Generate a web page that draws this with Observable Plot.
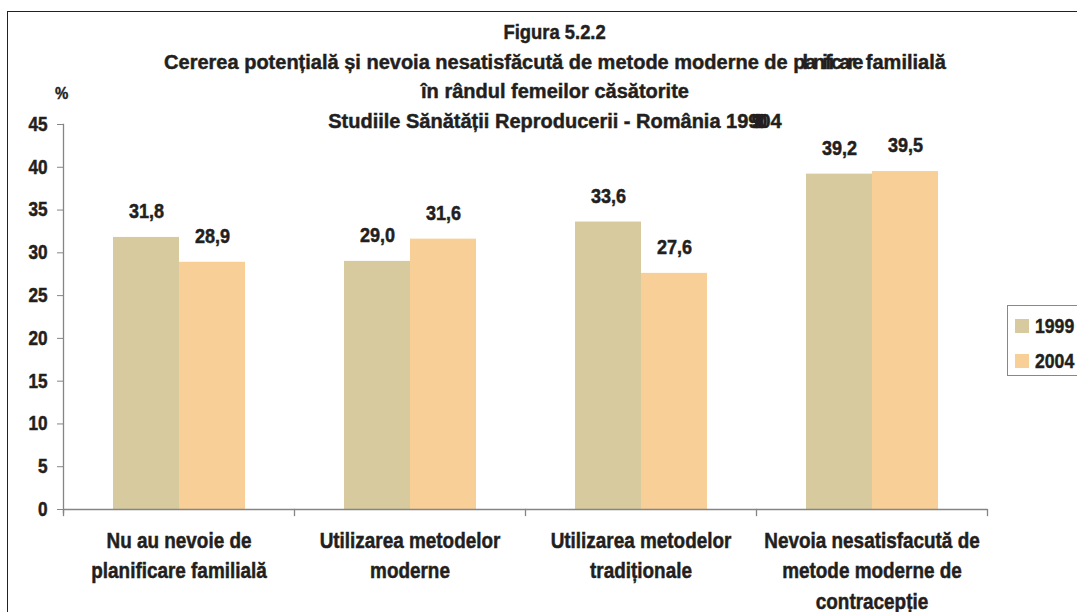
<!DOCTYPE html>
<html>
<head>
<meta charset="utf-8">
<script src="https://cdn.jsdelivr.net/npm/d3@7"></script>
<script src="https://cdn.jsdelivr.net/npm/@observablehq/plot@0.6"></script>
<style>
  html, body { margin: 0; padding: 0; background: #fff; overflow: hidden; }
  body { width: 1077px; height: 612px; position: relative; font-family: "Liberation Sans", Arial, sans-serif; font-weight: bold; color: #231f20; -webkit-text-stroke: 0.45px #231f20; }
  #frame { position: absolute; left: 7px; top: 11px; width: 1200px; height: 800px; border-top: 1.5px solid #222; border-left: 1.5px solid #222; }
  #chart { position: absolute; left: 0; top: 0; }
  #title { position: absolute; left: 0; width: 1110px; top: 18px; text-align: center; font-size: 20px; line-height: 29.7px; white-space: nowrap; transform: scaleX(1.0); transform-origin: 555px 0; }
  #legend { position: absolute; left: 1007px; top: 305px; width: 90px; height: 69px; border: 1px solid #888; background: #fff; }
  .sw { position: absolute; left: 7px; width: 14px; height: 14px; }
  .lt { position: absolute; left: 27px; font-size: 21px; line-height: 24px; transform: scaleX(0.84); transform-origin: 0 0; }
  #pct { position: absolute; left: 55px; top: 84px; font-size: 17px; line-height: 20px; transform: scaleX(0.88); transform-origin: 0 0; }
  #fig { display: inline-block; transform: scaleX(0.92); }
</style>
</head>
<body>
<div id="frame"></div>
<div id="chart"></div>
<div id="title"></div>
<div id="pct">%</div>
<div id="legend"></div>
<script>
const categories = [
  "Nu au nevoie de\nplanificare familială",
  "Utilizarea metodelor\nmoderne",
  "Utilizarea metodelor\ntradiționale",
  "Nevoia nesatisfacută de\nmetode moderne de\ncontracepție"
];
const years = ["1999", "2004"];
const values1999 = [31.8, 29.0, 33.6, 39.2];
const values2004 = [28.9, 31.6, 27.6, 39.5];
const yTicks = [0, 5, 10, 15, 20, 25, 30, 35, 40, 45];
const colors = ["#d6ca9e", "#f9cf98"];
const titleLines = [
  "<span id='fig'>Figura 5.2.2</span>",
  "Cererea potențială și nevoia nesatisfăcută de metode moderne de <span style='letter-spacing:-3px'>planificare</span> familială",
  "în rândul femeilor căsătorite",
  "Studiile Sănătății Reproducerii - România 19<span style='letter-spacing:-8px'>99-20</span>04"
];

const data = categories.flatMap((c, i) => [
  {cat: c, year: years[0], value: values1999[i]},
  {cat: c, year: years[1], value: values2004[i]}
]);

const W = 1077, H = 612, mL = 63, mR = 90, mT = 124, mB = 103;
const plotH = H - mT - mB;
const gray = "#858585";
const ink = "#231f20";
const font = '"Liberation Sans", Arial, sans-serif';
const squeeze = 0.86;
const fmt = v => v.toFixed(1).replace(".", ",");

const chart = Plot.plot({
  width: W, height: H,
  marginLeft: mL, marginRight: mR, marginTop: mT, marginBottom: mB,
  style: {fontFamily: font, fontWeight: "bold", background: "transparent"},
  fx: {domain: categories, padding: 0},
  x: {domain: years, paddingInner: 0, paddingOuter: 0.737},
  y: {domain: [0, 45]},
  color: {domain: years, range: colors},
  marks: [
    Plot.barY(data, {fx: "cat", x: "year", y: "value", fill: "year"}),
    Plot.text(data, {fx: "cat", x: "year", y: "value", text: d => fmt(d.value), dy: -26, fontSize: 21, fontWeight: "bold", fill: ink}),
    Plot.ruleY([0], {stroke: gray, strokeWidth: 1.3}),
    Plot.frame({anchor: "left", stroke: gray, strokeWidth: 1.3, insetTop: plotH, insetBottom: -6}),
    Plot.frame({anchor: "right", facetAnchor: "right", stroke: gray, strokeWidth: 1.3, insetTop: plotH, insetBottom: -6}),
    Plot.frame({anchor: "left", facetAnchor: "left", stroke: gray, strokeWidth: 1.3, insetBottom: -3}),
    Plot.axisY({ticks: yTicks, tickSize: 6, tickPadding: 10, fontSize: 20, fontWeight: "bold", stroke: gray, fill: ink, label: null}),
    Plot.axisX({ticks: [], label: null}),
    Plot.axisFx({anchor: "bottom", tickSize: 0, tickPadding: 17, fontSize: 22, fontWeight: "bold", lineHeight: 1.38, fill: ink, label: null})
  ]
});
document.getElementById("chart").appendChild(chart);

// condensed, heavy look: squeeze every SVG text horizontally around its anchor and thicken strokes
chart.querySelectorAll("text").forEach(t => {
  const x = +(t.getAttribute("x") || 0);
  const tr = t.getAttribute("transform") || "";
  t.setAttribute("transform", `${tr} translate(${x},0) scale(${squeeze},1) translate(${-x},0)`);
  t.setAttribute("stroke", ink);
  t.setAttribute("stroke-width", 0.5);
});

document.getElementById("title").innerHTML = titleLines.map(t => `<div>${t}</div>`).join("");

const legend = document.getElementById("legend");
years.forEach((y, i) => {
  const sw = document.createElement("div");
  sw.className = "sw";
  sw.style.top = (13 + i * 35) + "px";
  sw.style.background = colors[i];
  legend.appendChild(sw);
  const lt = document.createElement("div");
  lt.className = "lt";
  lt.style.top = (8 + i * 35) + "px";
  lt.textContent = y;
  legend.appendChild(lt);
});
</script>
</body>
</html>
